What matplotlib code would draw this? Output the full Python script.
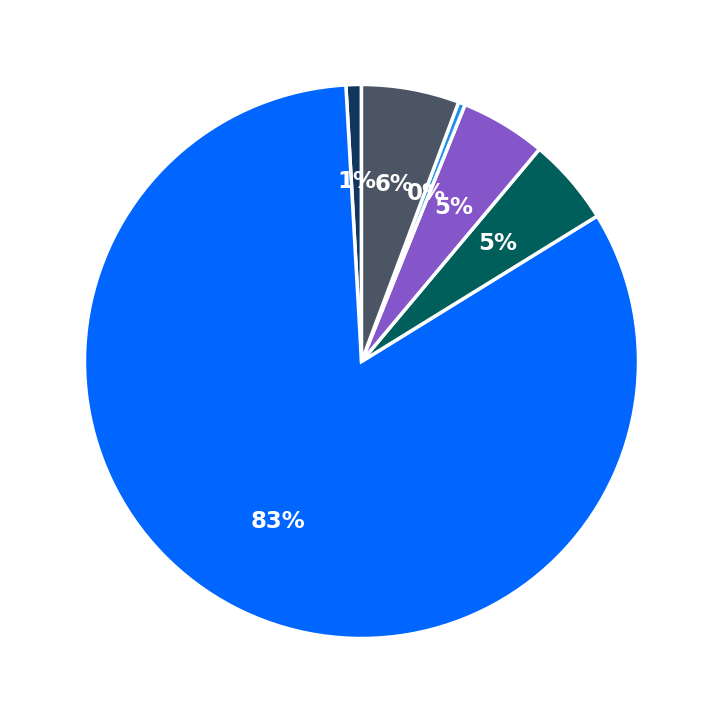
import matplotlib.pyplot as plt

labels = ['Navy', 'Blue', 'Teal', 'Purple', 'Light blue', 'Gray']
values = [0.9, 82.9, 5.1, 5.0, 0.4, 5.7]
colors = ['#12365e', '#0066ff', '#005f5a', '#8556c9', '#1e90e8', '#4b5563']

fig = plt.figure(figsize=(7.23, 7.23), dpi=100)
ax = fig.add_axes([0, 0, 1, 1])
wedges, texts, autotexts = ax.pie(values, colors=colors, startangle=90, counterclock=True,
                                  autopct='%1.0f%%', pctdistance=0.65,
                                  wedgeprops=dict(edgecolor='white', linewidth=2.5))
for t in autotexts:
    t.set_color('white')
    t.set_fontsize(16.5)
    t.set_fontweight('bold')
ax.set_xlim(-1.305, 1.305)
ax.set_ylim(-1.305, 1.305)
ax.set_aspect('equal')
ax.axis('off')
fig.savefig('out.png', dpi=100)
